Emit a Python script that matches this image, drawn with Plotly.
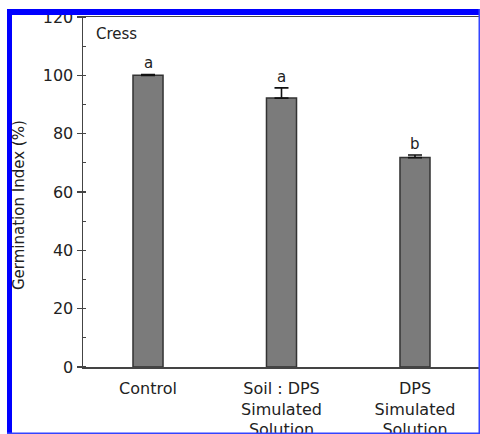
import plotly.graph_objects as go

# ---- data ----
categories = ["Control", "Soil : DPS<br>Simulated<br>Solution", "DPS<br>Simulated<br>Solution"]
values = [100.0, 92.2, 71.8]
errors = [0.3, 3.5, 0.9]
letters = ["a", "a", "b"]
y_ticks = [0, 20, 40, 60, 80, 100, 120]
panel_label = "Cress"
y_title = "Germination Index (%)"

# ---- layout geometry (page pixels; body margin removed below) ----
FW, FH = 480, 434
L, R, T, B = 83, 0, 17, 67
PW, PH = FW - L - R, FH - T - B

def px(x):  # page pixel -> paper x
    return (x - L) / PW

def py(y):  # page pixel -> paper y
    return (FH - B - y) / PH

FONT = "DejaVu Sans"
TXT = "#222222"

xpos = list(range(len(categories)))

fig = go.Figure()
fig.add_trace(go.Bar(
    x=xpos, y=values, width=0.225,
    marker=dict(color="#7b7b7b", line=dict(color="#333333", width=1.5)),
    error_y=dict(type="data", symmetric=False, array=errors,
                 arrayminus=[0] * len(errors), color="#111111",
                 thickness=1.6, width=7),
    showlegend=False,
    hoverinfo="skip",
))

for xi, v, e, lt in zip(xpos, values, errors, letters):
    fig.add_annotation(x=xi, y=v + e, text=lt, showarrow=False,
                       yanchor="bottom", yshift=0,
                       font=dict(family=FONT, size=15, color=TXT))

fig.add_annotation(xref="paper", yref="paper", x=px(94), y=py(34),
                   xanchor="left", yanchor="middle", text=panel_label,
                   showarrow=False, font=dict(family=FONT, size=15, color=TXT))

fig.add_annotation(xref="paper", yref="paper", x=px(19), y=py(205),
                   xanchor="center", yanchor="middle", text=y_title,
                   textangle=-90, showarrow=False,
                   font=dict(family=FONT, size=15, color=TXT))

# blue frame (cropped-figure border) and white outer strip
BLUE = "#0000ff"
shapes = [
    dict(type="rect", xref="paper", yref="paper", x0=px(0), x1=px(7), y0=py(FH), y1=py(0),
         fillcolor="white", line=dict(width=0), layer="above"),
    dict(type="rect", xref="paper", yref="paper", x0=px(0), x1=px(FW), y0=py(9), y1=py(0),
         fillcolor="white", line=dict(width=0), layer="above"),
    dict(type="rect", xref="paper", yref="paper", x0=px(7), x1=px(12), y0=py(FH), y1=py(9),
         fillcolor=BLUE, line=dict(width=0), layer="above"),
    dict(type="rect", xref="paper", yref="paper", x0=px(7), x1=px(FW), y0=py(15), y1=py(9),
         fillcolor=BLUE, line=dict(width=0), layer="above"),
    dict(type="rect", xref="paper", yref="paper", x0=px(478.5), x1=px(FW), y0=py(FH), y1=py(9),
         fillcolor="#3344ff", line=dict(width=0), layer="above"),
    dict(type="rect", xref="paper", yref="paper", x0=px(7), x1=px(FW), y0=py(FH), y1=py(432.5),
         fillcolor="#3344ff", line=dict(width=0), layer="above"),
]

fig.update_layout(
    width=FW, height=FH,
    margin=dict(l=L, r=R, t=T, b=B, autoexpand=False),
    paper_bgcolor="white", plot_bgcolor="white",
    shapes=shapes,
    bargap=0,
    hovermode=False,
    xaxis=dict(
        range=[-0.487, 2.487], tickmode="array", tickvals=xpos, ticktext=categories,
        showline=True, linecolor="#444444", linewidth=1.5, mirror=True,
        ticks="", showgrid=False, zeroline=False,
        tickfont=dict(family=FONT, size=16, color=TXT),
        ticklabelstandoff=6,
    ),
    yaxis=dict(
        range=[0, 120], tickmode="array", tickvals=y_ticks,
        showline=True, linecolor="#444444", linewidth=1.5, mirror=False,
        ticks="outside", ticklen=5, tickwidth=1.5, tickcolor="#444444",
        minor=dict(ticks="inside", ticklen=3, tickwidth=1.2, tickcolor="#444444", dtick=10, showgrid=False),
        showgrid=False, zeroline=False,
        tickfont=dict(family=FONT, size=16, color=TXT),
        ticklabeloverflow="allow",
    ),
)

fig.write_html(
    "out.html",
    config={"displayModeBar": False, "staticPlot": True},
    post_script=(
        "document.body.style.margin='0';"
        "document.documentElement.style.overflow='hidden';"
        "document.body.style.overflow='hidden';"
    ),
)
